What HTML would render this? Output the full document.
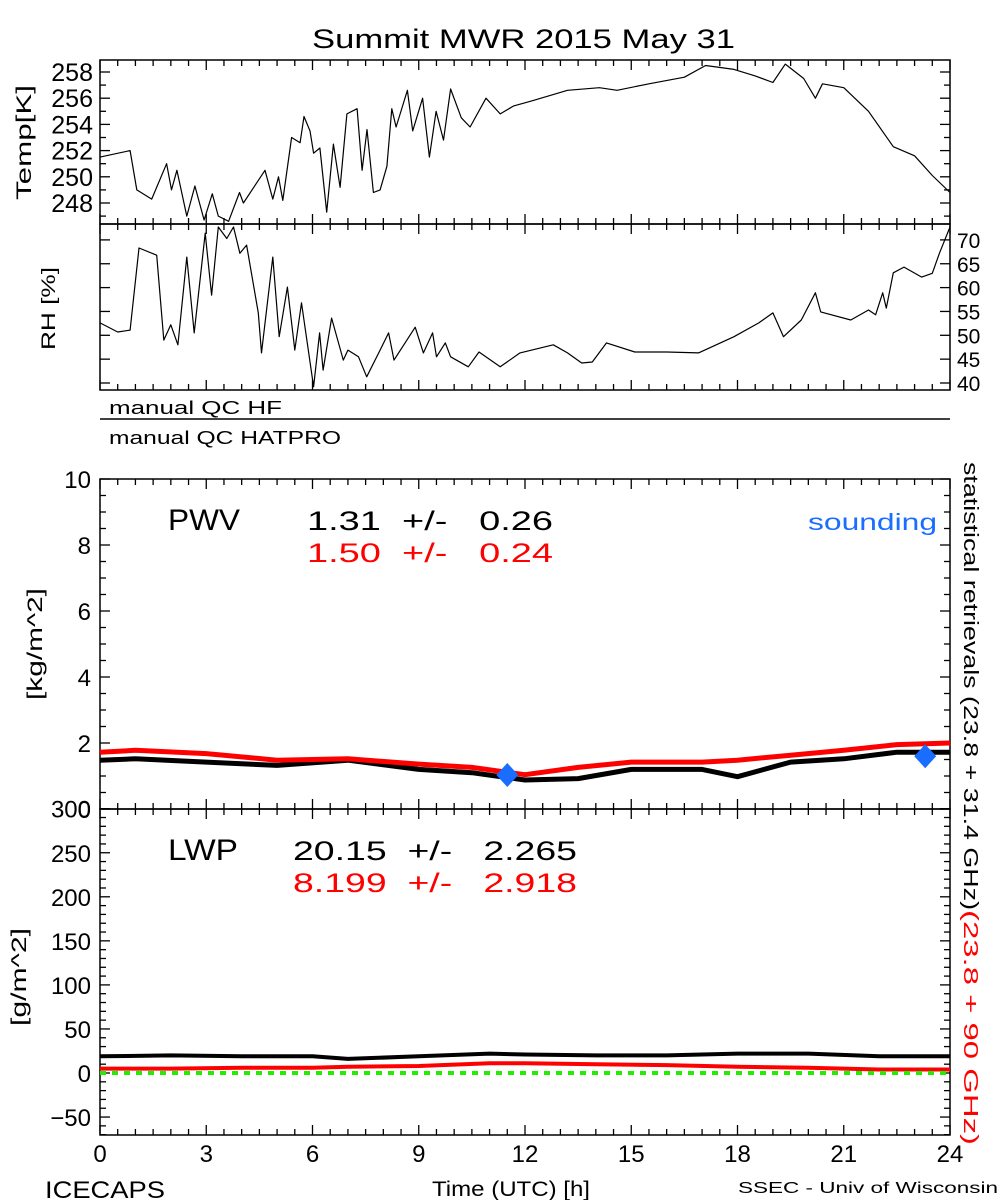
<!DOCTYPE html>
<html><head><meta charset="utf-8"><style>
html,body{margin:0;padding:0;background:#fff;}
svg{display:block;font-family:"Liberation Sans",sans-serif;}
</style></head><body>
<svg id="chart" width="1000" height="1200" viewBox="0 0 1000 1200" xmlns="http://www.w3.org/2000/svg">
<text x="312" y="48" font-size="27" textLength="423" lengthAdjust="spacingAndGlyphs">Summit MWR 2015 May 31</text>
<g id="axes"></g>
<g id="marks"></g>
<text transform="translate(31,200) rotate(-90)" font-size="21" textLength="115" lengthAdjust="spacingAndGlyphs">Temp[K]</text>
<text transform="translate(55,350) rotate(-90)" font-size="19" textLength="83" lengthAdjust="spacingAndGlyphs">RH [%]</text>
<text x="109" y="414" font-size="18" textLength="173" lengthAdjust="spacingAndGlyphs">manual  QC  HF</text>
<text x="109" y="444" font-size="18" textLength="232" lengthAdjust="spacingAndGlyphs">manual  QC  HATPRO</text>
<text transform="translate(42,700) rotate(-90)" font-size="21" textLength="112" lengthAdjust="spacingAndGlyphs">[kg/m^2]</text>
<text transform="translate(26,1026) rotate(-90)" font-size="21" textLength="98" lengthAdjust="spacingAndGlyphs">[g/m^2]</text>
<text x="168" y="530" font-size="30" textLength="72" lengthAdjust="spacingAndGlyphs">PWV</text>
<text x="307" y="530" font-size="27" textLength="246" lengthAdjust="spacingAndGlyphs" xml:space="preserve">1.31  +/-   0.26</text>
<text x="307" y="562" font-size="27" textLength="246" lengthAdjust="spacingAndGlyphs" fill="#ff0000" xml:space="preserve">1.50  +/-   0.24</text>
<text x="808" y="530" font-size="23" textLength="129" lengthAdjust="spacingAndGlyphs" fill="#1a6eff">sounding</text>
<text x="168" y="860" font-size="30" textLength="70" lengthAdjust="spacingAndGlyphs">LWP</text>
<text x="293" y="860" font-size="27" textLength="284" lengthAdjust="spacingAndGlyphs" xml:space="preserve">20.15  +/-   2.265</text>
<text x="293" y="892" font-size="27" textLength="284" lengthAdjust="spacingAndGlyphs" fill="#ff0000" xml:space="preserve">8.199  +/-   2.918</text>
<text transform="translate(964,462) rotate(90)" font-size="20" textLength="448" lengthAdjust="spacingAndGlyphs">statistical  retrievals  (23.8  +  31.4  GHz)</text>
<text transform="translate(964,910) rotate(90)" font-size="20" textLength="235" lengthAdjust="spacingAndGlyphs" fill="#ff0000">(23.8  +  90  GHz)</text>
<text x="432" y="1196" font-size="21" textLength="158" lengthAdjust="spacingAndGlyphs">Time (UTC) [h]</text>
<text x="45" y="1198" font-size="24" textLength="120" lengthAdjust="spacingAndGlyphs">ICECAPS</text>
<text x="738" y="1193" font-size="16" textLength="260" lengthAdjust="spacingAndGlyphs">SSEC  -  Univ of Wisconsin</text>
</svg>
<script>
const tempH=[0,0.85,1.04,1.46,1.88,2.02,2.17,2.45,2.68,2.94,3.17,3.34,3.63,3.94,4.05,4.66,4.88,5.04,5.16,5.41,5.65,5.76,5.93,6.03,6.21,6.4,6.59,6.78,6.97,7.26,7.4,7.54,7.72,7.91,8.1,8.24,8.36,8.68,8.83,9.11,9.3,9.49,9.7,9.9,10.2,10.45,10.9,11.3,11.67,12.2,13.2,14.1,14.6,15.5,16.5,17.1,17.9,18.5,19.0,19.35,19.87,20.2,20.4,21.0,21.7,22.4,23.0,23.5,24];
const tempV=[251.5,252,249,248.3,251,249,250.5,247,249.3,246.7,248.7,247,246.6,248.8,248,250.5,248.3,250,248.2,253,252.6,254.6,253.5,251.8,252.2,247.3,252.5,249.2,254.8,255.2,250.5,253.6,248.8,249,250.8,255.2,253.8,256.6,253.5,256,251.5,255,252.8,256.7,254.5,253.8,256,254.8,255.4,255.8,256.6,256.8,256.6,257.1,257.6,258.5,258.2,257.7,257.2,258.6,257.5,256,257.1,256.8,255,252.3,251.6,250.1,248.8];
const rhH=[0,0.5,0.85,1.1,1.6,1.8,2.0,2.2,2.45,2.66,2.97,3.15,3.34,3.58,3.77,3.95,4.14,4.47,4.56,4.88,5.06,5.29,5.5,5.69,6.03,6.2,6.3,6.54,6.87,7.0,7.3,7.53,7.91,8.15,8.3,8.9,9.13,9.39,9.5,9.75,9.9,10.4,10.7,11.3,11.86,12.8,13.2,13.6,13.9,14.3,15.1,16.0,16.9,17.9,18.6,19.0,19.3,19.8,20.2,20.35,21.2,21.7,21.9,22.1,22.2,22.4,22.7,23.2,23.5,23.7,24];
const rhV=[52.6,50.7,51.1,68.3,66.8,49,52.2,48,66.4,50.5,71.4,58.4,72.7,70.3,72.7,67.2,68.9,54.7,46.3,66.4,49.7,60.1,46.9,56.8,39.2,50.5,42.7,53.6,44.8,46.9,45.5,41.3,46.9,50.5,44.8,51.7,46.3,50.5,45.5,48.4,45.5,43.4,46.5,43.4,46.3,48,46.3,44.2,44.4,48.4,46.5,46.5,46.3,49.7,52.6,54.7,49.7,53.2,58.9,54.9,53.2,55.3,54.3,58.9,55.7,63.1,64.3,62.2,63,67.2,72.7];
const pwvH=[0,1,3,5,7,9,10.5,12,13.5,15,17,18,19.5,21,22.5,24];
const pwvBlack=[1.48,1.52,1.42,1.32,1.48,1.2,1.1,0.88,0.92,1.2,1.2,0.98,1.42,1.52,1.72,1.72];
const pwvRed=[1.72,1.78,1.68,1.48,1.52,1.36,1.26,1.04,1.26,1.42,1.42,1.48,1.63,1.78,1.95,2.0];
const soundH=[11.5,23.3];
const soundV=[1.03,1.6];
const lwpH=[0,2,4,6,7,9,11,12,14,16,18,20,22,24];
const lwpBlack=[19,20,19,19,16,19,22,21,20,20,22,22,19,19];
const lwpRed=[5,5,6,6,7,8,11,11,10,9,7,6,4,4];
const xTicks=[0,3,6,9,12,15,18,21,24];
const tempTicks=[248,250,252,254,256,258];
const rhTicks=[40,45,50,55,60,65,70];
const pwvTicks=[0,2,4,6,8,10];
const lwpTicks=[-50,0,50,100,150,200,250,300];

const NS="http://www.w3.org/2000/svg";
const X0=100,X1=950;
const xs=h=>X0+h*(X1-X0)/24;
const tempY=v=>72+(258-v)*13.1;
const rhY=v=>383-(v-40)*4.77;
const pwvY=v=>809-v*33;
const lwpY=v=>1073-v*0.881;
const axes=document.getElementById('axes');
const marks=document.getElementById('marks');
function mk(tag,attrs,parent){const e=document.createElementNS(NS,tag);for(const k in attrs)e.setAttribute(k,attrs[k]);parent.appendChild(e);return e;}
function line(x1,y1,x2,y2,p,w){return mk('line',{x1,y1,x2,y2,stroke:'#000','stroke-width':w||1.3},p);}

const panels=[[60,224],[224,390],[479,809],[809,1135]];
panels.forEach(([t,b],i)=>{
  const r=mk('rect',{x:X0,y:t,width:X1-X0,height:b-t,fill:'none',stroke:'#000','stroke-width':1.5},axes);
  
  
  for(let h=0;h<=24;h+=0.5){const big=h%3===0;const L=big?10:6;
    line(xs(h),b,xs(h),b-L,axes);line(xs(h),t,xs(h),t+L,axes);}
});
line(X0,419,X1,419,axes,1.5);
function yTicks(fy,lo,hi,step,lab){
  for(let v=lo;v<=hi+1e-9;v+=step){const y=fy(v);const big=lab.includes(Math.round(v*100)/100);
    const L=big?10:6;
    line(X0,y,X0+L,y,axes);line(X1,y,X1-L,y,axes);}
}
yTicks(tempY,247,258,1,tempTicks);
yTicks(rhY,40,70,5,rhTicks);
yTicks(pwvY,0,10,0.5,pwvTicks);
yTicks(lwpY,-70,300,10,lwpTicks);
function label(x,y,txt,anchor,size,name){const t=mk('text',{x,y,'font-size':size,'text-anchor':anchor},axes);t.textContent=txt;
  
  }
tempTicks.forEach(v=>label(93,tempY(v)+9,v,'end',25,'temp-tick-label'));
rhTicks.forEach(v=>label(957,rhY(v)+8,v,'start',21,'rh-tick-label'));
pwvTicks.forEach(v=>label(91,pwvY(v)+9,v,'end',24,'pwv-tick-label'));
lwpTicks.forEach(v=>label(91,lwpY(v)+9,v<0?'\u2212'+(-v):v,'end',24,'lwp-tick-label'));
xTicks.forEach(h=>label(xs(h),1162,h,'middle',24,'x-tick-label'));

function path(H,V,fx,fy,color,w,name,dash){
  const d=H.map((h,i)=>(i?'L':'M')+fx(h).toFixed(1)+','+fy(V[i]).toFixed(1)).join('');
  const p=mk('path',{d,fill:'none',stroke:color,'stroke-width':w,'stroke-linejoin':'round'},marks);
  if(dash)p.setAttribute('stroke-dasharray',dash);
  
  
}
path(tempH,tempV,xs,tempY,'#000',1.2,'temp-line');
path(rhH,rhV,xs,rhY,'#000',1.2,'rh-line');
path(pwvH,pwvBlack,xs,pwvY,'#000',5,'pwv-black-line');
path(pwvH,pwvRed,xs,pwvY,'#ff0000',5,'pwv-red-line');
path(lwpH,lwpBlack,xs,lwpY,'#000',4,'lwp-black-line');
path(lwpH,lwpRed,xs,lwpY,'#ff0000',4,'lwp-red-line');
path([0,24],[0,0],xs,lwpY,'#22ee00',4,'lwp-zero-line','6,6');
soundH.forEach((h,i)=>{const x=xs(h),y=pwvY(soundV[i]);
  const d=mk('polygon',{points:`${x},${y-12} ${x+11},${y} ${x},${y+12} ${x-11},${y}`,fill:'#1a6eff'},marks);
  
  
});
</script>
</body></html>
